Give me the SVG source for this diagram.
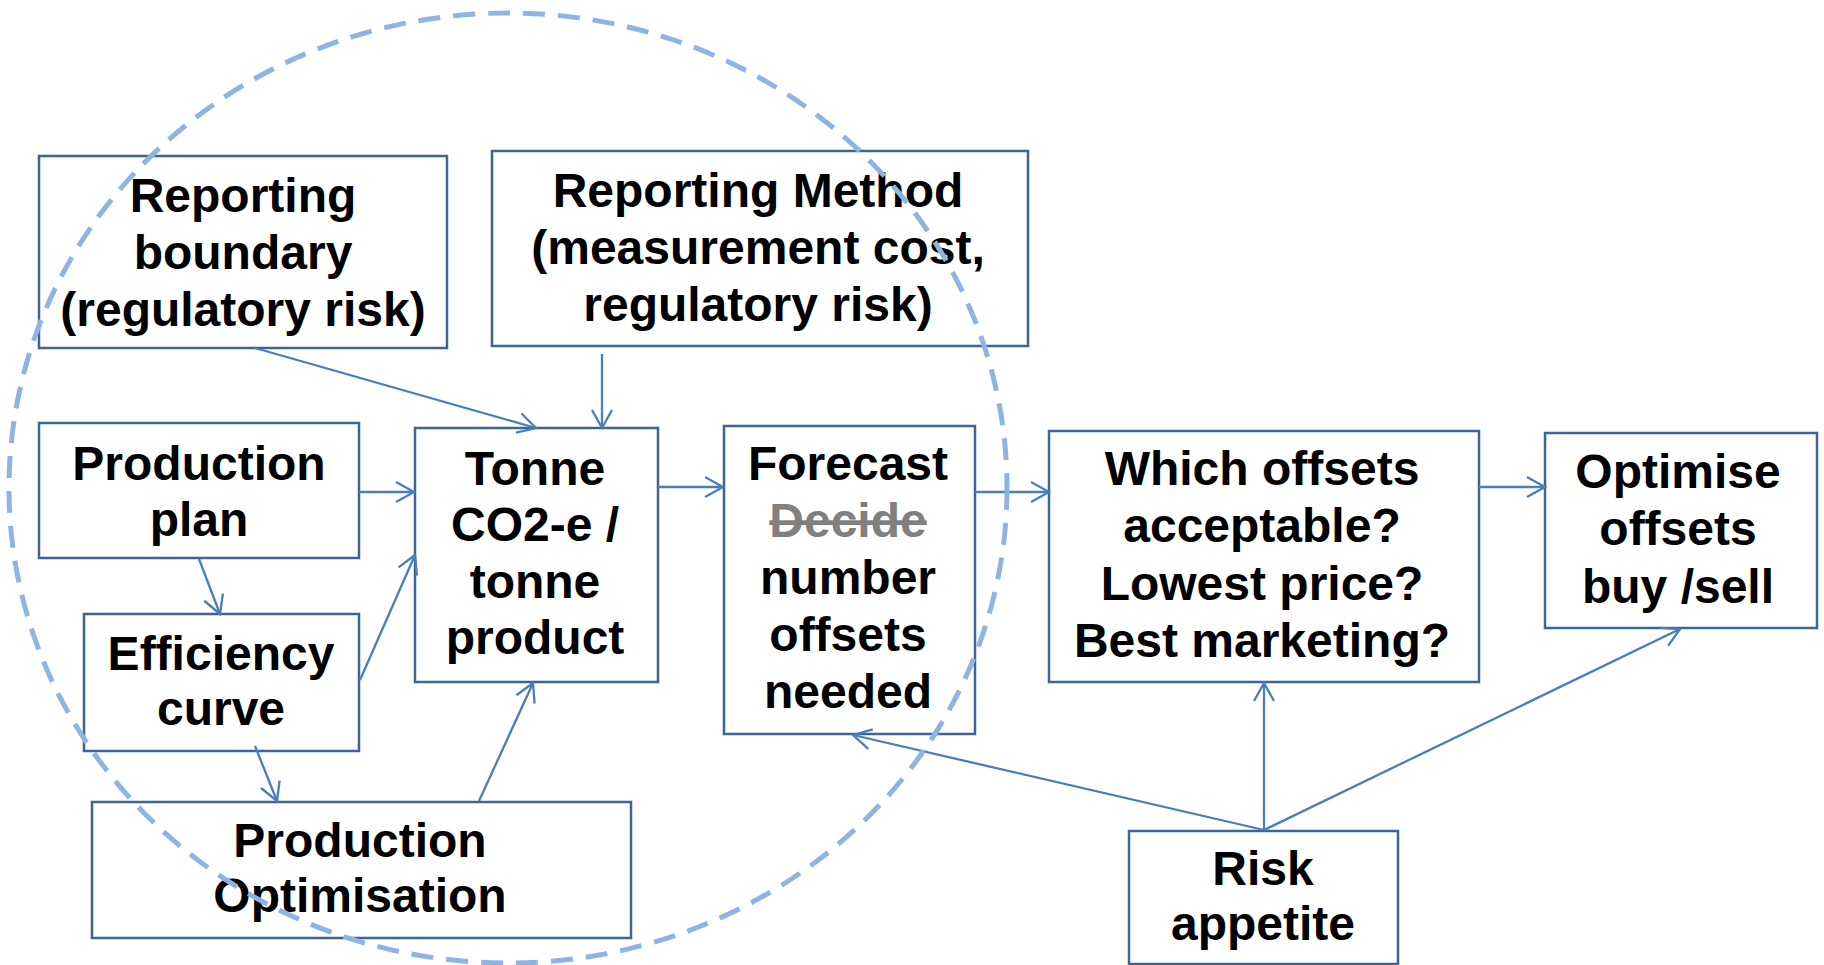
<svg xmlns="http://www.w3.org/2000/svg" width="1824" height="965" viewBox="0 0 1824 965">
  <defs>
    <style>
      .box { fill: #ffffff; stroke: #3d6495; stroke-width: 2.5; }
      .lbl { font-family: "Liberation Sans", Arial, sans-serif; font-weight: bold; font-size: 48px; fill: #000000; text-anchor: middle; }
      .strike { fill: #808080; text-decoration: line-through; }
      .conn { stroke: #4a7ebb; stroke-width: 2.3; fill: none; marker-end: url(#arrow); }
      .ring { fill: none; stroke: #8eb4e3; stroke-width: 5; stroke-dasharray: 22 13; }
    </style>
    <marker id="arrow" markerUnits="userSpaceOnUse" markerWidth="40" markerHeight="40" viewBox="-20 -20 40 40" refX="0" refY="0" orient="auto" overflow="visible">
      <path d="M -18 -10 L 0 0 L -18 10" fill="none" stroke="#4a7ebb" stroke-width="2.3"/>
    </marker>
  </defs>
  <rect x="0" y="0" width="1824" height="965" fill="#ffffff"/>

  <g id="node-reporting-boundary">
    <rect class="box" x="39" y="156" width="408" height="192"/>
    <text class="lbl" x="243"><tspan x="243" y="212">Reporting</tspan><tspan x="243" y="269">boundary</tspan><tspan x="243" y="326">(regulatory risk)</tspan></text>
  </g>
  <g id="node-reporting-method">
    <rect class="box" x="492" y="151" width="536" height="195"/>
    <text class="lbl"><tspan x="758" y="207">Reporting Method</tspan><tspan x="758" y="264">(measurement cost,</tspan><tspan x="758" y="321">regulatory risk)</tspan></text>
  </g>
  <g id="node-production-plan">
    <rect class="box" x="39" y="423" width="320" height="135"/>
    <text class="lbl"><tspan x="199" y="480">Production</tspan><tspan x="199" y="536">plan</tspan></text>
  </g>
  <g id="node-tonne">
    <rect class="box" x="415" y="428" width="243" height="254"/>
    <text class="lbl"><tspan x="535" y="485">Tonne</tspan><tspan x="535" y="541">CO2-e /</tspan><tspan x="535" y="598">tonne</tspan><tspan x="535" y="654">product</tspan></text>
  </g>
  <g id="node-forecast">
    <rect class="box" x="724" y="426" width="251" height="308"/>
    <text class="lbl"><tspan x="848" y="480">Forecast</tspan><tspan x="848" y="537" class="strike">Decide</tspan><tspan x="848" y="594">number</tspan><tspan x="848" y="651">offsets</tspan><tspan x="848" y="708">needed</tspan></text>
  </g>
  <g id="node-which-offsets">
    <rect class="box" x="1049" y="431" width="430" height="251"/>
    <text class="lbl"><tspan x="1262" y="485">Which offsets</tspan><tspan x="1262" y="542">acceptable?</tspan><tspan x="1262" y="600">Lowest price?</tspan><tspan x="1262" y="657">Best marketing?</tspan></text>
  </g>
  <g id="node-optimise">
    <rect class="box" x="1545" y="433" width="272" height="195"/>
    <text class="lbl"><tspan x="1678" y="488">Optimise</tspan><tspan x="1678" y="545">offsets</tspan><tspan x="1678" y="603">buy /sell</tspan></text>
  </g>
  <g id="node-efficiency">
    <rect class="box" x="84" y="614" width="275" height="137"/>
    <text class="lbl"><tspan x="221" y="670">Efficiency</tspan><tspan x="221" y="725">curve</tspan></text>
  </g>
  <g id="node-production-optimisation">
    <rect class="box" x="92" y="802" width="539" height="136"/>
    <text class="lbl"><tspan x="360" y="857">Production</tspan><tspan x="360" y="912">Optimisation</tspan></text>
  </g>
  <g id="node-risk">
    <rect class="box" x="1129" y="831" width="269" height="133"/>
    <text class="lbl"><tspan x="1263" y="885">Risk</tspan><tspan x="1263" y="940">appetite</tspan></text>
  </g>

  <g id="connectors">
    <line class="conn" x1="255" y1="348" x2="536" y2="428"/>
    <line class="conn" x1="602" y1="354" x2="602" y2="428"/>
    <line class="conn" x1="359" y1="492" x2="414" y2="492"/>
    <line class="conn" x1="199" y1="559" x2="220" y2="614"/>
    <line class="conn" x1="360" y1="680" x2="415" y2="555"/>
    <line class="conn" x1="255" y1="746" x2="277" y2="801"/>
    <line class="conn" x1="479" y1="801" x2="533" y2="683"/>
    <line class="conn" x1="658" y1="487" x2="723" y2="487"/>
    <line class="conn" x1="975" y1="492" x2="1049" y2="492"/>
    <line class="conn" x1="1479" y1="487" x2="1545" y2="487"/>
    <line class="conn" x1="1264" y1="830" x2="853" y2="735"/>
    <line class="conn" x1="1264" y1="830" x2="1264" y2="683"/>
    <line class="conn" x1="1264" y1="830" x2="1680" y2="629"/>
  </g>

  <g id="boundary-ring">
    <ellipse class="ring" cx="508" cy="488" rx="499" ry="475"/>
  </g>
</svg>
